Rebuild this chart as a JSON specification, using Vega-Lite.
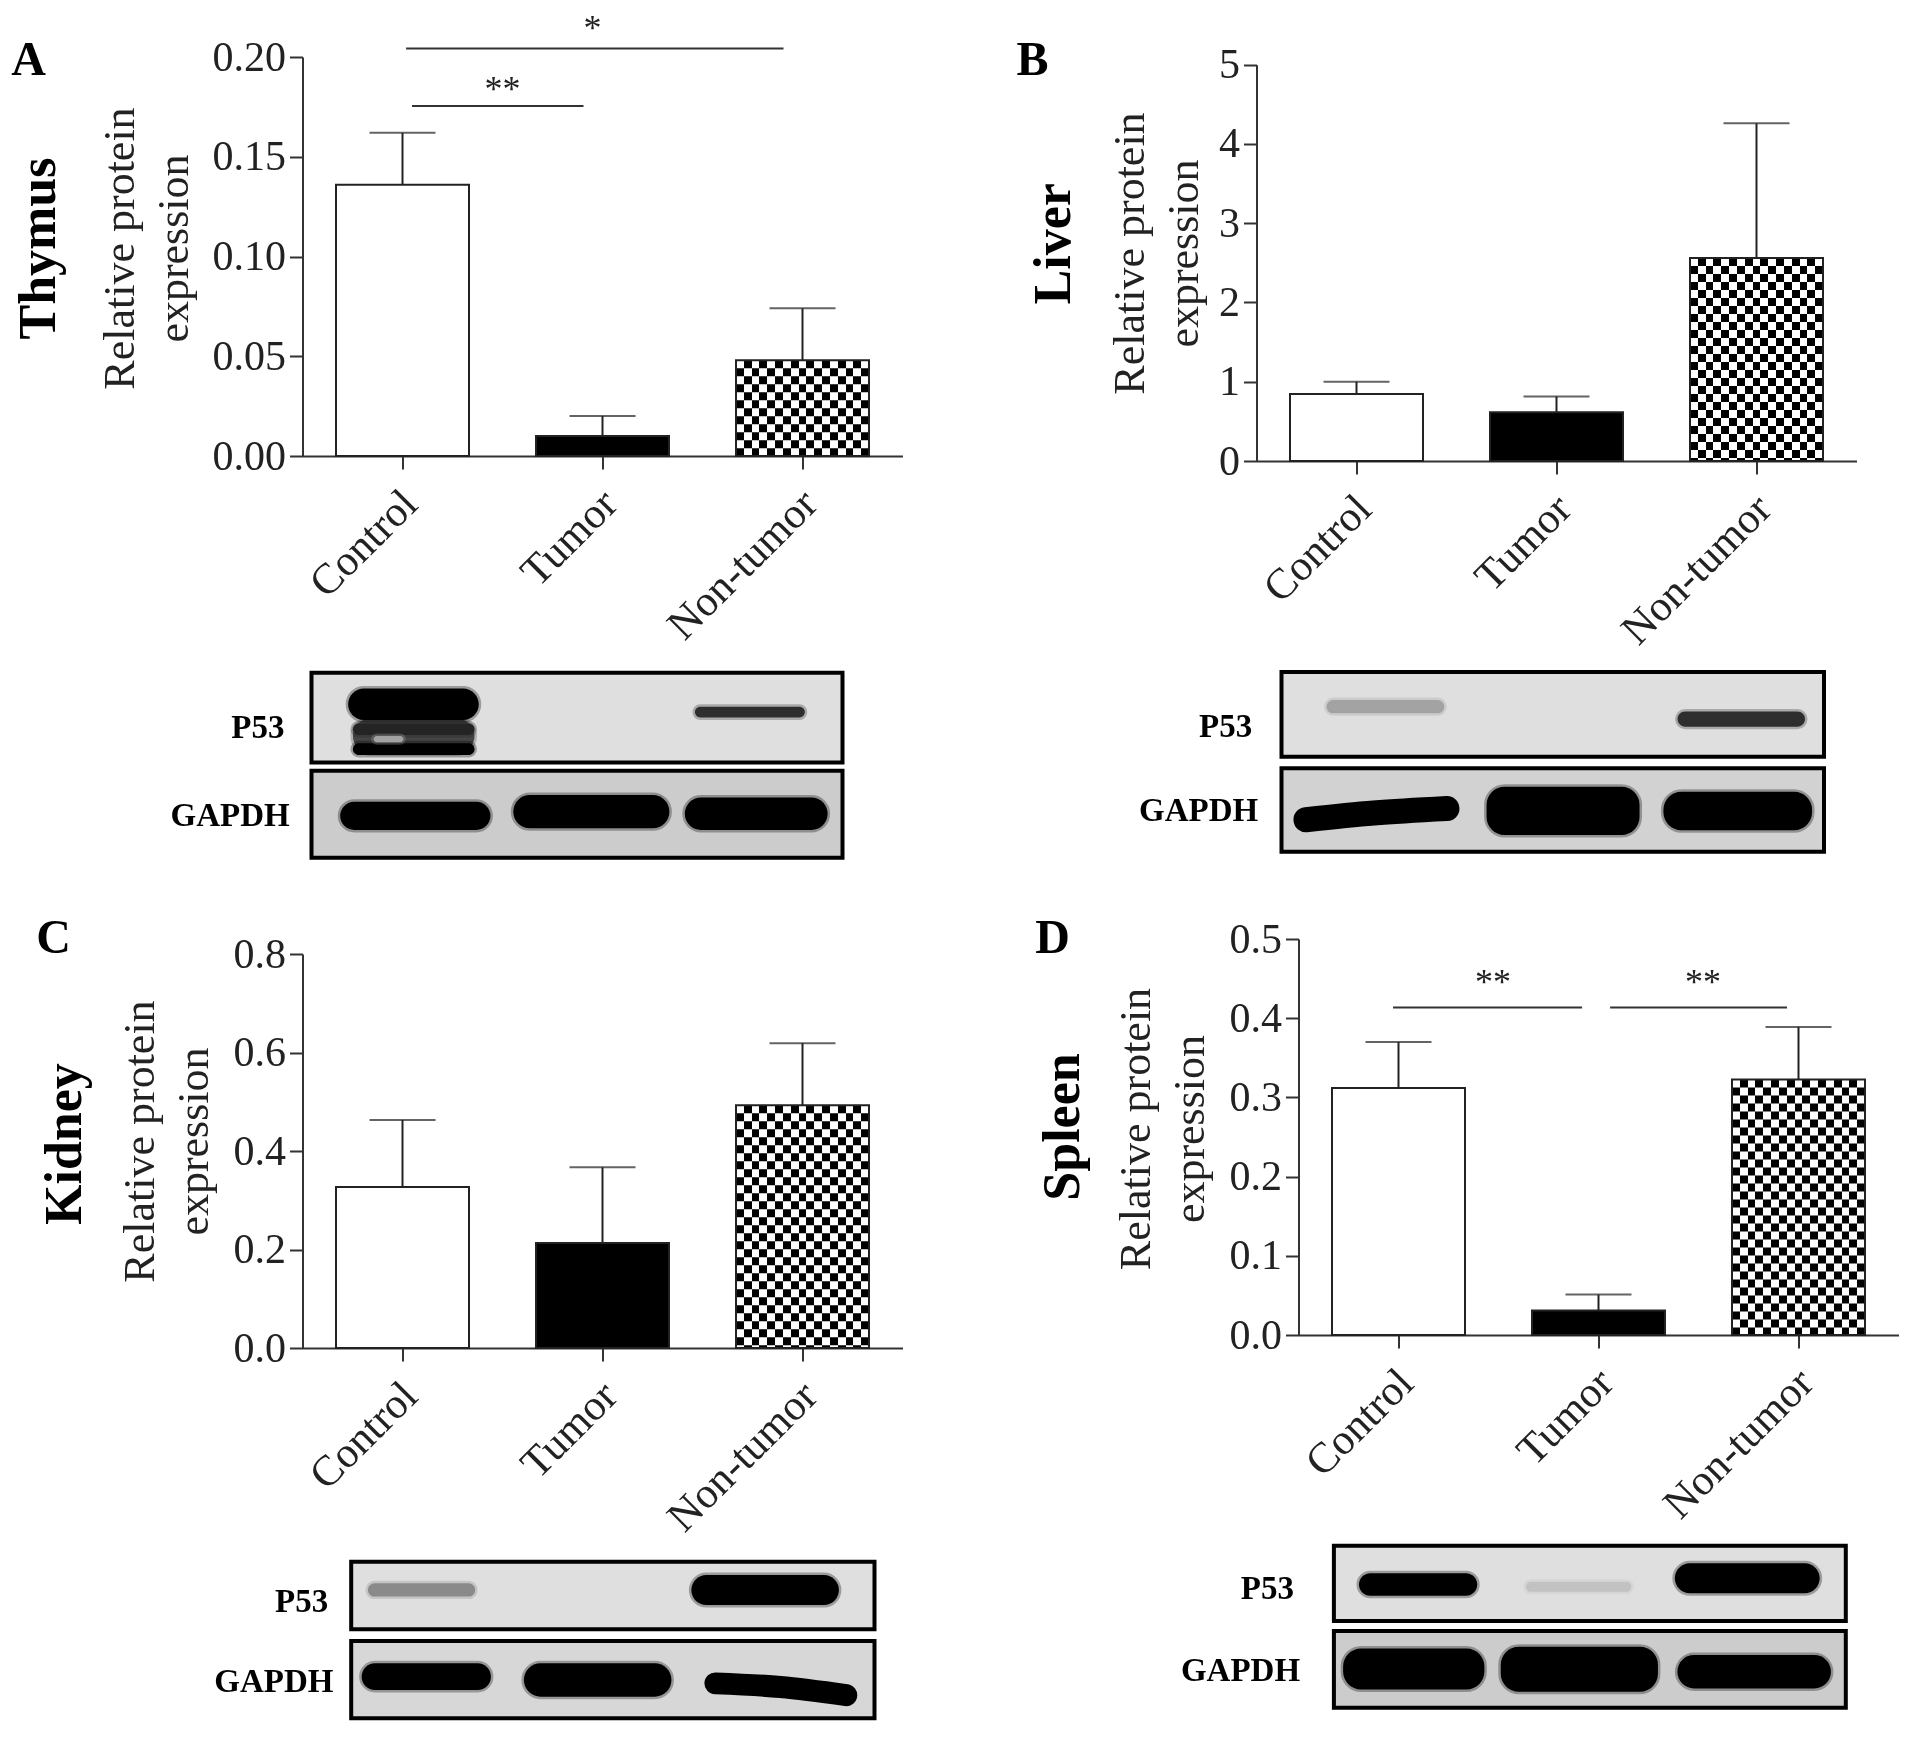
{
"$schema":"https://vega.github.io/schema/vega-lite/v6.json",
"background":"white",
"padding":{"left":10.5,"top":11,"right":0,"bottom":0},
"config":{"font":"Liberation Serif","view":{"stroke":null},
 "axis":{"grid":false,"domainColor":"#333","domainWidth":2,"tickColor":"#333","tickWidth":2,"tickSize":13,"labelColor":"#222","titleColor":"#222","labelOverlap":false,"labelBound":false,"labelFlush":false,"labelLimit":500}},
"datasets":{
 "A":[{"group":"Control","mean":0.136,"upper":0.162},{"group":"Tumor","mean":0.010,"upper":0.020},{"group":"Non-tumor","mean":0.048,"upper":0.074}],
 "B":[{"group":"Control","mean":0.846,"upper":1.0},{"group":"Tumor","mean":0.615,"upper":0.815},{"group":"Non-tumor","mean":2.56,"upper":4.26}],
 "C":[{"group":"Control","mean":0.327,"upper":0.463},{"group":"Tumor","mean":0.213,"upper":0.367},{"group":"Non-tumor","mean":0.493,"upper":0.619}],
 "D":[{"group":"Control","mean":0.312,"upper":0.370},{"group":"Tumor","mean":0.031,"upper":0.051},{"group":"Non-tumor","mean":0.3225,"upper":0.389}]
},
"concat":[
{"width":600,"height":404,"data":{"name":"A"},
 "encoding":{"x":{"field":"group","type":"nominal","sort":null,"scale":{"type":"band","domain":["Control","Tumor","Non-tumor"],"range":[0,600],"paddingInner":0,"paddingOuter":0},"axis":{"title":null,"offset":-5,"labelAngle":-45,"labelAlign":"right","labelBaseline":"middle","labelFontSize":43,"labelPadding":28,"labelOffset":8}}},
 "layer":[
 {"mark":{"type":"rule","stroke":"#222","strokeWidth":2},"encoding":{"y":{"field":"mean","type":"quantitative","scale":{"domain":[0,0.2],"range":[399,0],"nice":false},"axis":{"values":[0,0.05,0.1,0.15,0.2],"format":".2f","labelFontSize":42,"labelPadding":4,"title":["Relative protein","expression"],"titleFontSize":44,"titleFontWeight":"normal","titleLineHeight":54,"titleBaseline":"alphabetic","titleAlign":"center","titleX":-169,"titleY":191}},"y2":{"field":"upper"}}},
 {"mark":{"type":"tick","size":66,"thickness":2,"color":"#222"},"encoding":{"y":{"field":"upper","type":"quantitative"}}},
 {"mark":{"type":"bar","size":133},"encoding":{"y":{"field":"mean","type":"quantitative"},"fill":{"field":"group","type":"nominal","scale":{"domain":["Control","Tumor","Non-tumor"],"range":["#fff","#000","#fff"]},"legend":null}}},
 {"transform":[{"filter":"datum.group==='Non-tumor'"}],"mark":{"type":"bar","size":133,"fill":{"gradient":"linear","x1":0,"y1":0,"x2":1,"y2":0,"stops":[{"offset":0,"color":"#000"},{"offset":0.0588,"color":"#000"},{"offset":0.0588,"color":"#fff"},{"offset":0.1176,"color":"#fff"},{"offset":0.1176,"color":"#000"},{"offset":0.1765,"color":"#000"},{"offset":0.1765,"color":"#fff"},{"offset":0.2353,"color":"#fff"},{"offset":0.2353,"color":"#000"},{"offset":0.2941,"color":"#000"},{"offset":0.2941,"color":"#fff"},{"offset":0.3529,"color":"#fff"},{"offset":0.3529,"color":"#000"},{"offset":0.4118,"color":"#000"},{"offset":0.4118,"color":"#fff"},{"offset":0.4706,"color":"#fff"},{"offset":0.4706,"color":"#000"},{"offset":0.5294,"color":"#000"},{"offset":0.5294,"color":"#fff"},{"offset":0.5882,"color":"#fff"},{"offset":0.5882,"color":"#000"},{"offset":0.6471,"color":"#000"},{"offset":0.6471,"color":"#fff"},{"offset":0.7059,"color":"#fff"},{"offset":0.7059,"color":"#000"},{"offset":0.7647,"color":"#000"},{"offset":0.7647,"color":"#fff"},{"offset":0.8235,"color":"#fff"},{"offset":0.8235,"color":"#000"},{"offset":0.8824,"color":"#000"},{"offset":0.8824,"color":"#fff"},{"offset":0.9412,"color":"#fff"},{"offset":0.9412,"color":"#000"},{"offset":1,"color":"#000"}]}},"encoding":{"y":{"field":"mean","type":"quantitative"}}},
 {"transform":[{"filter":"datum.group==='Non-tumor'"}],"mark":{"type":"rule","stroke":"#fff","strokeWidth":133,"strokeDash":[8,8],"blend":"difference"},"encoding":{"y":{"field":"mean","type":"quantitative"},"y2":{"datum":0}}},
 {"mark":{"type":"bar","size":133,"fillOpacity":0,"stroke":"#222","strokeWidth":2},"encoding":{"y":{"field":"mean","type":"quantitative"}}},
 {"data":{"values":[{"label":"A","at":0.198}]},"mark":{"type":"text","fontWeight":"bold","fontSize":48,"dx":-374,"baseline":"middle","align":"center","color":"#000"},"encoding":{"x":{"datum":"Control"},"y":{"field":"at","type":"quantitative"},"text":{"field":"label"}}},
 {"data":{"values":[{"label":"Thymus","at":0.104}]},"mark":{"type":"text","angle":270,"fontWeight":"bold","fontSize":52,"dy":-364,"baseline":"middle","align":"center","color":"#000"},"encoding":{"x":{"datum":"Control"},"y":{"field":"at","type":"quantitative"},"text":{"field":"label"}}},
 {"data":{"values":[{"level":0.2042}]},"mark":{"type":"rule","stroke":"#333","strokeWidth":2,"xOffset":3.6,"x2Offset":-19},"encoding":{"x":{"datum":"Control"},"x2":{"datum":"Non-tumor"},"y":{"field":"level","type":"quantitative"}}},
 {"data":{"values":[{"level":0.1754}]},"mark":{"type":"rule","stroke":"#333","strokeWidth":2,"xOffset":9.5,"x2Offset":-19},"encoding":{"x":{"datum":"Control"},"x2":{"datum":"Tumor"},"y":{"field":"level","type":"quantitative"}}},
 {"data":{"values":[{"level":0.214,"label":"*"}]},"mark":{"type":"text","fontSize":36,"dx":-10,"baseline":"middle","align":"center","color":"#222"},"encoding":{"x":{"datum":"Tumor"},"y":{"field":"level","type":"quantitative"},"text":{"field":"label"}}},
 {"data":{"values":[{"level":0.1835,"label":"**"}]},"mark":{"type":"text","fontSize":36,"dx":-100,"baseline":"middle","align":"center","color":"#222"},"encoding":{"x":{"datum":"Tumor"},"y":{"field":"level","type":"quantitative"},"text":{"field":"label"}}}
 ]},
{"width":642,"height":404,"data":{"name":"B"},
 "encoding":{"x":{"field":"group","type":"nominal","sort":null,"scale":{"type":"band","domain":["Control","Tumor","Non-tumor"],"range":[0,600],"paddingInner":0,"paddingOuter":0},"axis":{"title":null,"labelAngle":-45,"labelAlign":"right","labelBaseline":"middle","labelFontSize":43,"labelPadding":28,"labelOffset":8}}},
 "layer":[
 {"mark":{"type":"rule","stroke":"#222","strokeWidth":2},"encoding":{"y":{"field":"mean","type":"quantitative","scale":{"domain":[0,5],"range":[404,7.7],"nice":false},"axis":{"values":[0,1,2,3,4,5],"format":"d","labelFontSize":42,"labelPadding":4,"title":["Relative protein","expression"],"titleFontSize":44,"titleFontWeight":"normal","titleLineHeight":54,"titleBaseline":"alphabetic","titleAlign":"center","titleX":-113,"titleY":196}},"y2":{"field":"upper"}}},
 {"mark":{"type":"tick","size":66,"thickness":2,"color":"#222"},"encoding":{"y":{"field":"upper","type":"quantitative"}}},
 {"mark":{"type":"bar","size":133},"encoding":{"y":{"field":"mean","type":"quantitative"},"fill":{"field":"group","type":"nominal","scale":{"domain":["Control","Tumor","Non-tumor"],"range":["#fff","#000","#fff"]},"legend":null}}},
 {"transform":[{"filter":"datum.group==='Non-tumor'"}],"mark":{"type":"bar","size":133,"fill":{"gradient":"linear","x1":0,"y1":0,"x2":1,"y2":0,"stops":[{"offset":0,"color":"#000"},{"offset":0.0588,"color":"#000"},{"offset":0.0588,"color":"#fff"},{"offset":0.1176,"color":"#fff"},{"offset":0.1176,"color":"#000"},{"offset":0.1765,"color":"#000"},{"offset":0.1765,"color":"#fff"},{"offset":0.2353,"color":"#fff"},{"offset":0.2353,"color":"#000"},{"offset":0.2941,"color":"#000"},{"offset":0.2941,"color":"#fff"},{"offset":0.3529,"color":"#fff"},{"offset":0.3529,"color":"#000"},{"offset":0.4118,"color":"#000"},{"offset":0.4118,"color":"#fff"},{"offset":0.4706,"color":"#fff"},{"offset":0.4706,"color":"#000"},{"offset":0.5294,"color":"#000"},{"offset":0.5294,"color":"#fff"},{"offset":0.5882,"color":"#fff"},{"offset":0.5882,"color":"#000"},{"offset":0.6471,"color":"#000"},{"offset":0.6471,"color":"#fff"},{"offset":0.7059,"color":"#fff"},{"offset":0.7059,"color":"#000"},{"offset":0.7647,"color":"#000"},{"offset":0.7647,"color":"#fff"},{"offset":0.8235,"color":"#fff"},{"offset":0.8235,"color":"#000"},{"offset":0.8824,"color":"#000"},{"offset":0.8824,"color":"#fff"},{"offset":0.9412,"color":"#fff"},{"offset":0.9412,"color":"#000"},{"offset":1,"color":"#000"}]}},"encoding":{"y":{"field":"mean","type":"quantitative"}}},
 {"transform":[{"filter":"datum.group==='Non-tumor'"}],"mark":{"type":"rule","stroke":"#fff","strokeWidth":133,"strokeDash":[8,8],"blend":"difference"},"encoding":{"y":{"field":"mean","type":"quantitative"},"y2":{"datum":0}}},
 {"mark":{"type":"bar","size":133,"fillOpacity":0,"stroke":"#222","strokeWidth":2},"encoding":{"y":{"field":"mean","type":"quantitative"}}},
 {"data":{"values":[{"label":"B","at":5.05}]},"mark":{"type":"text","fontWeight":"bold","fontSize":48,"dx":-324,"baseline":"middle","align":"center","color":"#000"},"encoding":{"x":{"datum":"Control"},"y":{"field":"at","type":"quantitative"},"text":{"field":"label"}}},
 {"data":{"values":[{"label":"Liver","at":2.74}]},"mark":{"type":"text","angle":270,"fontWeight":"bold","fontSize":52,"dy":-303,"baseline":"middle","align":"center","color":"#000"},"encoding":{"x":{"datum":"Control"},"y":{"field":"at","type":"quantitative"},"text":{"field":"label"}}}
 ]},
{"width":600,"height":316,"data":{"values":[
 {"x0":0,"x1":100,"y0":0,"y1":48.5,"tone":0.07,"kind":"frame"},{"x0":0,"x1":100,"y0":53,"y1":100,"tone":0.14,"kind":"frame"},
 {"x0":7.8,"x1":30.7,"y0":24.7,"y1":43.6,"tone":0.7,"kind":"band"},{"x0":6.9,"x1":31.5,"y0":8.5,"y1":25.6,"tone":1,"kind":"band"},{"x0":7.8,"x1":30.7,"y0":27.4,"y1":33.7,"tone":0.85,"kind":"band"},{"x0":7.8,"x1":30.7,"y0":38.2,"y1":44.5,"tone":1,"kind":"band"},{"x0":11.7,"x1":17.3,"y0":34.2,"y1":37.6,"tone":0.3,"kind":"band"},
 {"x0":72.2,"x1":92.9,"y0":18.4,"y1":24.2,"tone":0.8,"kind":"band"},
 {"x0":5.4,"x1":33.7,"y0":69.7,"y1":85,"tone":1,"kind":"band"},{"x0":38,"x1":67.4,"y0":66.1,"y1":84.1,"tone":1,"kind":"band"},{"x0":70.3,"x1":97.2,"y0":67.5,"y1":85,"tone":1,"kind":"band"}]},
 "layer":[
 {"transform":[{"filter":"datum.kind==='frame'"}],"mark":{"type":"rect","stroke":"#000","strokeWidth":4},"encoding":{"x":{"field":"x0","type":"quantitative","axis":null,"scale":{"domain":[0,100],"range":[9,540],"nice":false,"zero":false}},"x2":{"field":"x1"},"y":{"field":"y0","type":"quantitative","axis":null,"scale":{"domain":[0,100],"range":[130.7,315.7],"nice":false,"zero":false}},"y2":{"field":"y1"},"fill":{"field":"tone","type":"quantitative","legend":null,"scale":{"domain":[0,1],"range":["#f2f2f2","#000"]}}}},
 {"transform":[{"filter":"datum.kind==='band'"}],"mark":{"type":"rect","cornerRadius":18,"strokeWidth":5,"strokeOpacity":0.3},"encoding":{"x":{"field":"x0","type":"quantitative"},"x2":{"field":"x1"},"y":{"field":"y0","type":"quantitative"},"y2":{"field":"y1"},"fill":{"field":"tone","type":"quantitative","legend":null},"stroke":{"field":"tone","type":"quantitative","legend":null,"scale":{"domain":[0,1],"range":["#f2f2f2","#000"]}}}},
 {"data":{"values":[{"label":"P53","x0":-5.1,"y0":29.9},{"label":"GAPDH","x0":-4.1,"y0":77.5}]},"mark":{"type":"text","fontWeight":"bold","fontSize":33,"align":"right","baseline":"middle","color":"#000"},"encoding":{"x":{"field":"x0","type":"quantitative"},"y":{"field":"y0","type":"quantitative"},"text":{"field":"label"}}}
 ]},
{"width":642,"height":316,"data":{"values":[
 {"x0":0,"x1":100,"y0":0,"y1":47.1,"tone":0.07,"kind":"frame"},{"x0":0,"x1":100,"y0":53.6,"y1":100,"tone":0.12,"kind":"frame"},
 {"x0":8.3,"x1":30,"y0":15.6,"y1":23,"tone":0.3,"kind":"band"},{"x0":73,"x1":96.5,"y0":22,"y1":30.4,"tone":0.8,"kind":"band"},
 {"x0":37.8,"x1":66,"y0":63.8,"y1":90.7,"tone":1,"kind":"band"},{"x0":70.4,"x1":97.8,"y0":66.6,"y1":88,"tone":1,"kind":"band"},
 {"x0":4.5,"y0":82.2,"kind":"smear"},{"x0":17,"y0":78.5,"kind":"smear"},{"x0":30.5,"y0":76,"kind":"smear"}]},
 "layer":[
 {"transform":[{"filter":"datum.kind==='frame'"}],"mark":{"type":"rect","stroke":"#000","strokeWidth":4},"encoding":{"x":{"field":"x0","type":"quantitative","axis":null,"scale":{"domain":[0,100],"range":[25,567.5],"nice":false,"zero":false}},"x2":{"field":"x1"},"y":{"field":"y0","type":"quantitative","axis":null,"scale":{"domain":[0,100],"range":[130,309.7],"nice":false,"zero":false}},"y2":{"field":"y1"},"fill":{"field":"tone","type":"quantitative","legend":null,"scale":{"domain":[0,1],"range":["#f2f2f2","#000"]}}}},
 {"transform":[{"filter":"datum.kind==='band'"}],"mark":{"type":"rect","cornerRadius":18,"strokeWidth":5,"strokeOpacity":0.3},"encoding":{"x":{"field":"x0","type":"quantitative"},"x2":{"field":"x1"},"y":{"field":"y0","type":"quantitative"},"y2":{"field":"y1"},"fill":{"field":"tone","type":"quantitative","legend":null},"stroke":{"field":"tone","type":"quantitative","legend":null,"scale":{"domain":[0,1],"range":["#f2f2f2","#000"]}}}},
 {"transform":[{"filter":"datum.kind==='smear'"}],"mark":{"type":"line","color":"#000","strokeWidth":25,"strokeCap":"round","strokeJoin":"round","interpolate":"monotone"},"encoding":{"x":{"field":"x0","type":"quantitative"},"y":{"field":"y0","type":"quantitative"}}},
 {"data":{"values":[{"label":"P53","x0":-5.4,"y0":30.6},{"label":"GAPDH","x0":-4.3,"y0":77.2}]},"mark":{"type":"text","fontWeight":"bold","fontSize":33,"align":"right","baseline":"middle","color":"#000"},"encoding":{"x":{"field":"x0","type":"quantitative"},"y":{"field":"y0","type":"quantitative"},"text":{"field":"label"}}}
 ]},
{"width":600,"height":409,"data":{"name":"C"},
 "encoding":{"x":{"field":"group","type":"nominal","sort":null,"scale":{"type":"band","domain":["Control","Tumor","Non-tumor"],"range":[0,600],"paddingInner":0,"paddingOuter":0},"axis":{"title":null,"labelAngle":-45,"labelAlign":"right","labelBaseline":"middle","labelFontSize":43,"labelPadding":28,"labelOffset":8}}},
 "layer":[
 {"mark":{"type":"rule","stroke":"#222","strokeWidth":2},"encoding":{"y":{"field":"mean","type":"quantitative","scale":{"domain":[0,0.8],"range":[409,15],"nice":false},"axis":{"values":[0,0.2,0.4,0.6,0.8],"format":".1f","labelFontSize":42,"labelPadding":4,"title":["Relative protein","expression"],"titleFontSize":44,"titleFontWeight":"normal","titleLineHeight":54,"titleBaseline":"alphabetic","titleAlign":"center","titleX":-149,"titleY":202}},"y2":{"field":"upper"}}},
 {"mark":{"type":"tick","size":66,"thickness":2,"color":"#222"},"encoding":{"y":{"field":"upper","type":"quantitative"}}},
 {"mark":{"type":"bar","size":133},"encoding":{"y":{"field":"mean","type":"quantitative"},"fill":{"field":"group","type":"nominal","scale":{"domain":["Control","Tumor","Non-tumor"],"range":["#fff","#000","#fff"]},"legend":null}}},
 {"transform":[{"filter":"datum.group==='Non-tumor'"}],"mark":{"type":"bar","size":133,"fill":{"gradient":"linear","x1":0,"y1":0,"x2":1,"y2":0,"stops":[{"offset":0,"color":"#000"},{"offset":0.0588,"color":"#000"},{"offset":0.0588,"color":"#fff"},{"offset":0.1176,"color":"#fff"},{"offset":0.1176,"color":"#000"},{"offset":0.1765,"color":"#000"},{"offset":0.1765,"color":"#fff"},{"offset":0.2353,"color":"#fff"},{"offset":0.2353,"color":"#000"},{"offset":0.2941,"color":"#000"},{"offset":0.2941,"color":"#fff"},{"offset":0.3529,"color":"#fff"},{"offset":0.3529,"color":"#000"},{"offset":0.4118,"color":"#000"},{"offset":0.4118,"color":"#fff"},{"offset":0.4706,"color":"#fff"},{"offset":0.4706,"color":"#000"},{"offset":0.5294,"color":"#000"},{"offset":0.5294,"color":"#fff"},{"offset":0.5882,"color":"#fff"},{"offset":0.5882,"color":"#000"},{"offset":0.6471,"color":"#000"},{"offset":0.6471,"color":"#fff"},{"offset":0.7059,"color":"#fff"},{"offset":0.7059,"color":"#000"},{"offset":0.7647,"color":"#000"},{"offset":0.7647,"color":"#fff"},{"offset":0.8235,"color":"#fff"},{"offset":0.8235,"color":"#000"},{"offset":0.8824,"color":"#000"},{"offset":0.8824,"color":"#fff"},{"offset":0.9412,"color":"#fff"},{"offset":0.9412,"color":"#000"},{"offset":1,"color":"#000"}]}},"encoding":{"y":{"field":"mean","type":"quantitative"}}},
 {"transform":[{"filter":"datum.group==='Non-tumor'"}],"mark":{"type":"rule","stroke":"#fff","strokeWidth":133,"strokeDash":[8,8],"blend":"difference"},"encoding":{"y":{"field":"mean","type":"quantitative"},"y2":{"datum":0}}},
 {"mark":{"type":"bar","size":133,"fillOpacity":0,"stroke":"#222","strokeWidth":2},"encoding":{"y":{"field":"mean","type":"quantitative"}}},
 {"data":{"values":[{"label":"C","at":0.83}]},"mark":{"type":"text","fontWeight":"bold","fontSize":48,"dx":-349,"baseline":"middle","align":"center","color":"#000"},"encoding":{"x":{"datum":"Control"},"y":{"field":"at","type":"quantitative"},"text":{"field":"label"}}},
 {"data":{"values":[{"label":"Kidney","at":0.414}]},"mark":{"type":"text","angle":270,"fontWeight":"bold","fontSize":52,"dy":-338,"baseline":"middle","align":"center","color":"#000"},"encoding":{"x":{"datum":"Control"},"y":{"field":"at","type":"quantitative"},"text":{"field":"label"}}}
 ]},
{"width":642,"height":409,"data":{"name":"D"},
 "encoding":{"x":{"field":"group","type":"nominal","sort":null,"scale":{"type":"band","domain":["Control","Tumor","Non-tumor"],"range":[42,642],"paddingInner":0,"paddingOuter":0},"axis":{"title":null,"offset":-13,"labelAngle":-45,"labelAlign":"right","labelBaseline":"middle","labelFontSize":43,"labelPadding":28,"labelOffset":8}}},
 "layer":[
 {"mark":{"type":"rule","stroke":"#222","strokeWidth":2},"encoding":{"y":{"field":"mean","type":"quantitative","scale":{"domain":[0,0.5],"range":[396,0],"nice":false},"axis":{"offset":-42,"values":[0,0.1,0.2,0.3,0.4,0.5],"format":".1f","labelFontSize":42,"labelPadding":4,"title":["Relative protein","expression"],"titleFontSize":44,"titleFontWeight":"normal","titleLineHeight":54,"titleBaseline":"alphabetic","titleAlign":"center","titleX":-149,"titleY":189.5}},"y2":{"field":"upper"}}},
 {"mark":{"type":"tick","size":66,"thickness":2,"color":"#222"},"encoding":{"y":{"field":"upper","type":"quantitative"}}},
 {"mark":{"type":"bar","size":133},"encoding":{"y":{"field":"mean","type":"quantitative"},"fill":{"field":"group","type":"nominal","scale":{"domain":["Control","Tumor","Non-tumor"],"range":["#fff","#000","#fff"]},"legend":null}}},
 {"transform":[{"filter":"datum.group==='Non-tumor'"}],"mark":{"type":"bar","size":133,"fill":{"gradient":"linear","x1":0,"y1":0,"x2":1,"y2":0,"stops":[{"offset":0,"color":"#000"},{"offset":0.0588,"color":"#000"},{"offset":0.0588,"color":"#fff"},{"offset":0.1176,"color":"#fff"},{"offset":0.1176,"color":"#000"},{"offset":0.1765,"color":"#000"},{"offset":0.1765,"color":"#fff"},{"offset":0.2353,"color":"#fff"},{"offset":0.2353,"color":"#000"},{"offset":0.2941,"color":"#000"},{"offset":0.2941,"color":"#fff"},{"offset":0.3529,"color":"#fff"},{"offset":0.3529,"color":"#000"},{"offset":0.4118,"color":"#000"},{"offset":0.4118,"color":"#fff"},{"offset":0.4706,"color":"#fff"},{"offset":0.4706,"color":"#000"},{"offset":0.5294,"color":"#000"},{"offset":0.5294,"color":"#fff"},{"offset":0.5882,"color":"#fff"},{"offset":0.5882,"color":"#000"},{"offset":0.6471,"color":"#000"},{"offset":0.6471,"color":"#fff"},{"offset":0.7059,"color":"#fff"},{"offset":0.7059,"color":"#000"},{"offset":0.7647,"color":"#000"},{"offset":0.7647,"color":"#fff"},{"offset":0.8235,"color":"#fff"},{"offset":0.8235,"color":"#000"},{"offset":0.8824,"color":"#000"},{"offset":0.8824,"color":"#fff"},{"offset":0.9412,"color":"#fff"},{"offset":0.9412,"color":"#000"},{"offset":1,"color":"#000"}]}},"encoding":{"y":{"field":"mean","type":"quantitative"}}},
 {"transform":[{"filter":"datum.group==='Non-tumor'"}],"mark":{"type":"rule","stroke":"#fff","strokeWidth":133,"strokeDash":[8,8],"blend":"difference"},"encoding":{"y":{"field":"mean","type":"quantitative"},"y2":{"datum":0}}},
 {"mark":{"type":"bar","size":133,"fillOpacity":0,"stroke":"#222","strokeWidth":2},"encoding":{"y":{"field":"mean","type":"quantitative"}}},
 {"data":{"values":[{"label":"D","at":0.5}]},"mark":{"type":"text","fontWeight":"bold","fontSize":48,"dx":-346,"baseline":"middle","align":"center","color":"#000"},"encoding":{"x":{"datum":"Control"},"y":{"field":"at","type":"quantitative"},"text":{"field":"label"}}},
 {"data":{"values":[{"label":"Spleen","at":0.2626}]},"mark":{"type":"text","angle":270,"fontWeight":"bold","fontSize":52,"dy":-336,"baseline":"middle","align":"center","color":"#000"},"encoding":{"x":{"datum":"Control"},"y":{"field":"at","type":"quantitative"},"text":{"field":"label"}}},
 {"data":{"values":[{"level":0.4136}]},"mark":{"type":"rule","stroke":"#333","strokeWidth":2,"xOffset":-5.5,"x2Offset":-16.4},"encoding":{"x":{"datum":"Control"},"x2":{"datum":"Tumor"},"y":{"field":"level","type":"quantitative"}}},
 {"data":{"values":[{"level":0.4136}]},"mark":{"type":"rule","stroke":"#333","strokeWidth":2,"xOffset":11.6,"x2Offset":-11.5},"encoding":{"x":{"datum":"Tumor"},"x2":{"datum":"Non-tumor"},"y":{"field":"level","type":"quantitative"}}},
 {"data":{"values":[{"level":0.445,"label":"**"}]},"mark":{"type":"text","fontSize":36,"dx":-105.5,"baseline":"middle","align":"center","color":"#222"},"encoding":{"x":{"datum":"Tumor"},"y":{"field":"level","type":"quantitative"},"text":{"field":"label"}}},
 {"data":{"values":[{"level":0.445,"label":"**"}]},"mark":{"type":"text","fontSize":36,"dx":104.6,"baseline":"middle","align":"center","color":"#222"},"encoding":{"x":{"datum":"Tumor"},"y":{"field":"level","type":"quantitative"},"text":{"field":"label"}}}
 ]},
{"width":600,"height":289,"data":{"values":[
 {"x0":0,"x1":100,"y0":0,"y1":43.2,"tone":0.07,"kind":"frame"},{"x0":0,"x1":100,"y0":50.6,"y1":100,"tone":0.1,"kind":"frame"},
 {"x0":3.2,"x1":23.7,"y0":13.8,"y1":22.3,"tone":0.4,"kind":"band"},{"x0":65,"x1":93.2,"y0":8.5,"y1":27.7,"tone":1,"kind":"band"},
 {"x0":2,"x1":26.7,"y0":64.9,"y1":81.9,"tone":1,"kind":"band"},{"x0":33,"x1":61.2,"y0":64.9,"y1":86.2,"tone":1,"kind":"band"},
 {"x0":69.6,"y0":77.7,"kind":"smear"},{"x0":82,"y0":80,"kind":"smear"},{"x0":94.6,"y0":85.2,"kind":"smear"}]},
 "layer":[
 {"transform":[{"filter":"datum.kind==='frame'"}],"mark":{"type":"rect","stroke":"#000","strokeWidth":4},"encoding":{"x":{"field":"x0","type":"quantitative","axis":null,"scale":{"domain":[0,100],"range":[48.7,572],"nice":false,"zero":false}},"x2":{"field":"x1"},"y":{"field":"y0","type":"quantitative","axis":null,"scale":{"domain":[0,100],"range":[132.7,289.3],"nice":false,"zero":false}},"y2":{"field":"y1"},"fill":{"field":"tone","type":"quantitative","legend":null,"scale":{"domain":[0,1],"range":["#f2f2f2","#000"]}}}},
 {"transform":[{"filter":"datum.kind==='band'"}],"mark":{"type":"rect","cornerRadius":18,"strokeWidth":5,"strokeOpacity":0.3},"encoding":{"x":{"field":"x0","type":"quantitative"},"x2":{"field":"x1"},"y":{"field":"y0","type":"quantitative"},"y2":{"field":"y1"},"fill":{"field":"tone","type":"quantitative","legend":null},"stroke":{"field":"tone","type":"quantitative","legend":null,"scale":{"domain":[0,1],"range":["#f2f2f2","#000"]}}}},
 {"transform":[{"filter":"datum.kind==='smear'"}],"mark":{"type":"line","color":"#000","strokeWidth":22,"strokeCap":"round","strokeJoin":"round","interpolate":"monotone"},"encoding":{"x":{"field":"x0","type":"quantitative"},"y":{"field":"y0","type":"quantitative"}}},
 {"data":{"values":[{"label":"P53","x0":-4.4,"y0":25.7},{"label":"GAPDH","x0":-3.4,"y0":76.8}]},"mark":{"type":"text","fontWeight":"bold","fontSize":33,"align":"right","baseline":"middle","color":"#000"},"encoding":{"x":{"field":"x0","type":"quantitative"},"y":{"field":"y0","type":"quantitative"},"text":{"field":"label"}}}
 ]},
{"width":642,"height":289,"data":{"values":[
 {"x0":0,"x1":100,"y0":0,"y1":46.5,"tone":0.07,"kind":"frame"},{"x0":0,"x1":100,"y0":52.7,"y1":100,"tone":0.14,"kind":"frame"},
 {"x0":4.9,"x1":28,"y0":17,"y1":30.9,"tone":1,"kind":"band"},{"x0":37.5,"x1":58.1,"y0":22.2,"y1":28.4,"tone":0.18,"kind":"band"},{"x0":66.6,"x1":94.9,"y0":10.9,"y1":29.4,"tone":1,"kind":"band"},
 {"x0":1.8,"x1":29.4,"y0":63.4,"y1":88.7,"tone":1,"kind":"band"},{"x0":32.6,"x1":63.3,"y0":62.3,"y1":90.1,"tone":1,"kind":"band"},{"x0":67.1,"x1":97.1,"y0":67.5,"y1":88.1,"tone":1,"kind":"band"}]},
 "layer":[
 {"transform":[{"filter":"datum.kind==='frame'"}],"mark":{"type":"rect","stroke":"#000","strokeWidth":4},"encoding":{"x":{"field":"x0","type":"quantitative","axis":null,"scale":{"domain":[0,100],"range":[77.4,589.3],"nice":false,"zero":false}},"x2":{"field":"x1"},"y":{"field":"y0","type":"quantitative","axis":null,"scale":{"domain":[0,100],"range":[116.7,278.7],"nice":false,"zero":false}},"y2":{"field":"y1"},"fill":{"field":"tone","type":"quantitative","legend":null,"scale":{"domain":[0,1],"range":["#f2f2f2","#000"]}}}},
 {"transform":[{"filter":"datum.kind==='band'"}],"mark":{"type":"rect","cornerRadius":18,"strokeWidth":5,"strokeOpacity":0.3},"encoding":{"x":{"field":"x0","type":"quantitative"},"x2":{"field":"x1"},"y":{"field":"y0","type":"quantitative"},"y2":{"field":"y1"},"fill":{"field":"tone","type":"quantitative","legend":null},"stroke":{"field":"tone","type":"quantitative","legend":null,"scale":{"domain":[0,1],"range":["#f2f2f2","#000"]}}}},
 {"data":{"values":[{"label":"P53","x0":-7.8,"y0":26.7},{"label":"GAPDH","x0":-6.6,"y0":77.2}]},"mark":{"type":"text","fontWeight":"bold","fontSize":33,"align":"right","baseline":"middle","color":"#000"},"encoding":{"x":{"field":"x0","type":"quantitative"},"y":{"field":"y0","type":"quantitative"},"text":{"field":"label"}}}
 ]}
],
"columns":2,
"spacing":{"row":81,"column":354},
"bounds":"flush"
}
